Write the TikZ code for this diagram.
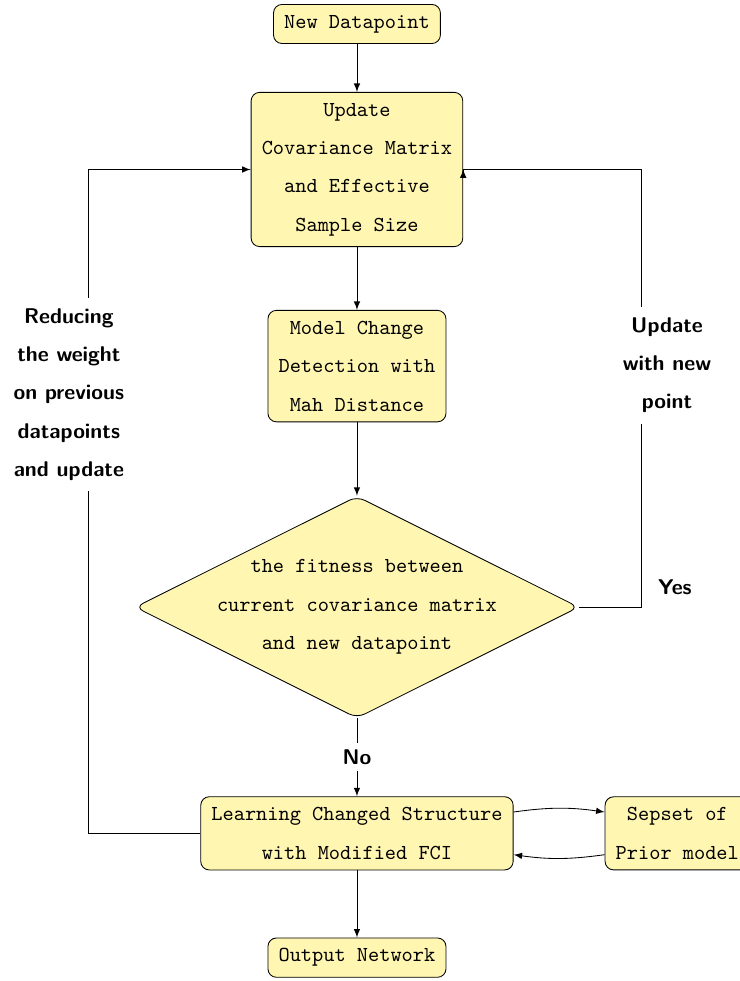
\documentclass[tikz,border=0pt]{standalone}
\usetikzlibrary{positioning,shapes.geometric}
\definecolor{boxyellow}{RGB}{255,246,178}
\begin{document}
\begin{tikzpicture}
[node distance = 22.5pt, >=latex,
box/.style={draw, rounded corners, fill=boxyellow, inner sep=5pt, align=center, font=\ttfamily\linespread{1.5}\selectfont},
decide/.style={draw, diamond, aspect=2, rounded corners, fill=boxyellow, inner sep=-2pt, align=center, font=\ttfamily\linespread{1.5}\selectfont},
lbl/.style={align=center, inner sep=5pt, font=\sffamily\bfseries\linespread{1.5}\selectfont}]

\useasboundingbox (-167.4pt,11.25pt) rectangle (179.6pt,-448.8pt);

% main column
\node [box] (new) {New Datapoint};
\node [box, below=22.5pt of new] (update) {Update\\Covariance Matrix\\and Effective\\Sample Size};
\node [box, below=29.5pt of update] (mcd) {Model Change\\Detection with\\Mah Distance};
\node [decide, below=34.5pt of mcd] (dec) {the fitness between\\current covariance matrix\\and new datapoint};
\node [box, below=36.5pt of dec] (learn) {Learning Changed Structure\\with Modified FCI};
\node [box, right=42.7pt of learn] (sepset) {Sepset of\\Prior model};
\node [box, below=31.5pt of learn] (out) {Output Network};

% turning points of the two loops
\coordinate (lturn) at ([xshift=-52.5pt]learn.west);
\coordinate (rturn) at ([xshift=29pt]dec.east);

\draw [->] (new) -- (update);
\draw [->] (update) -- (mcd);
\draw [->] (mcd) -- (dec);
\draw [->] (dec) -- node [lbl, fill=white, inner sep=3pt] {No} (learn);
\draw [->] (learn) -- (out);
\draw [->] ([yshift=10pt]learn.east) to [bend left=8] ([yshift=10pt]sepset.west);
\draw [->] ([yshift=-10pt]sepset.west) to [bend left=8] ([yshift=-10pt]learn.east);
\draw [->] (learn.west) -- (lturn) |- (update.west);
\draw [->] (dec.east) -- (rturn) |- (update.east) -- ++(0,0.1pt);

% loop labels
\node [lbl, fill=white] (reduce) at (-135.1pt,-173.8pt) {Reducing\\the weight\\on previous\\datapoints\\and update};
\node [lbl, fill=white] (newpt) at (145.4pt,-160pt) {Update\\with new\\point};
\node [lbl, above right=4pt, xshift=2pt, inner sep=3pt] (yes) at (rturn) {Yes};
\end{tikzpicture}
\end{document}
